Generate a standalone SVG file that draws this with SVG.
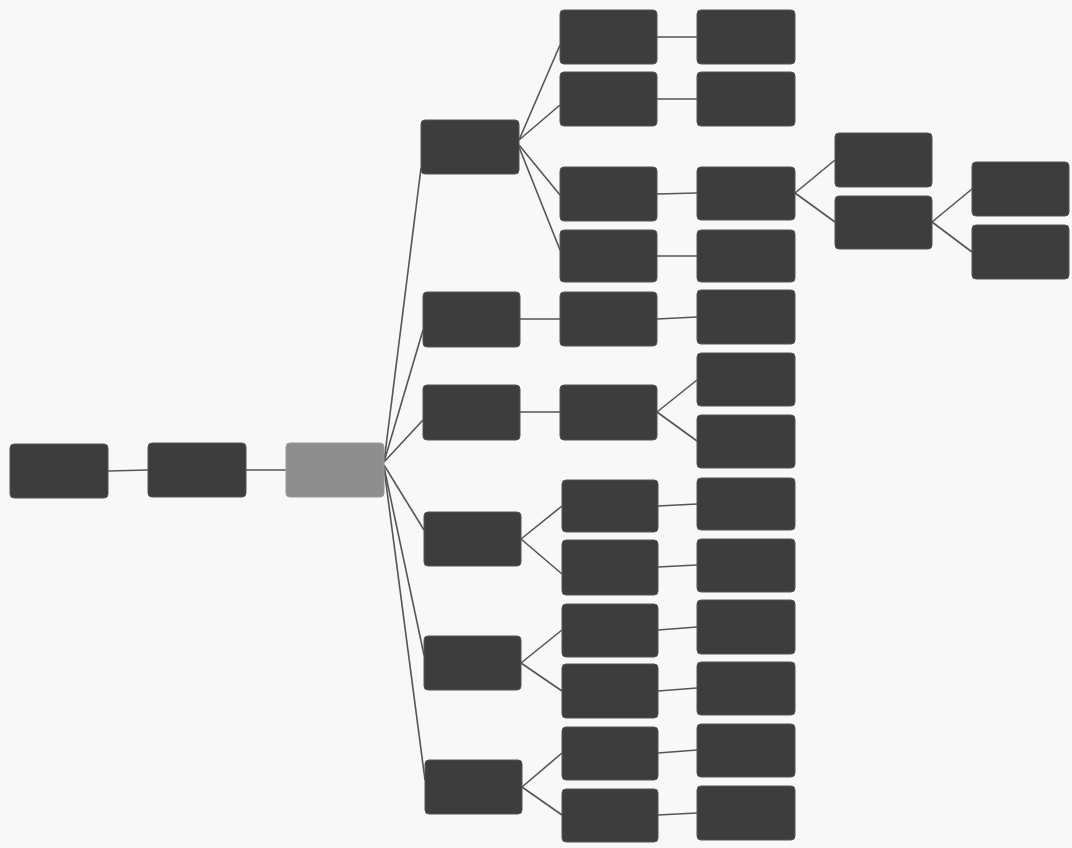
<svg xmlns="http://www.w3.org/2000/svg" width="1072" height="848" viewBox="0 0 1072 848">
<style>
.n{fill:#3d3d3d;stroke:#555;stroke-width:1}
.r{fill:#8e8e8e;stroke:#999;stroke-width:1}
.c line{stroke:#555;stroke-width:1.6}
</style>
<rect width="1072" height="848" fill="#f8f8f8"/>
<g class="c" id="connectors">
<line x1="108" y1="471" x2="148" y2="470"/>
<line x1="246" y1="470" x2="286" y2="470"/>
<line x1="384" y1="462" x2="421" y2="168"/>
<line x1="384" y1="462" x2="423" y2="330"/>
<line x1="384" y1="462" x2="423" y2="420"/>
<line x1="384" y1="465" x2="424" y2="530"/>
<line x1="384" y1="467" x2="424" y2="655"/>
<line x1="384" y1="468" x2="425" y2="780"/>
<line x1="519" y1="140" x2="560" y2="45"/>
<line x1="519" y1="140" x2="560" y2="105"/>
<line x1="519" y1="145" x2="560" y2="195"/>
<line x1="519" y1="147" x2="560" y2="250"/>
<line x1="520" y1="319" x2="560" y2="319"/>
<line x1="520" y1="412" x2="560" y2="412"/>
<line x1="521" y1="539" x2="562" y2="506"/>
<line x1="521" y1="539" x2="562" y2="574"/>
<line x1="521" y1="663" x2="562" y2="630"/>
<line x1="521" y1="663" x2="562" y2="691"/>
<line x1="522" y1="787" x2="562" y2="753"/>
<line x1="522" y1="787" x2="562" y2="815"/>
<line x1="657" y1="37" x2="697" y2="37"/>
<line x1="657" y1="99" x2="697" y2="99"/>
<line x1="657" y1="194" x2="697" y2="193"/>
<line x1="657" y1="256" x2="697" y2="256"/>
<line x1="657" y1="319" x2="697" y2="317"/>
<line x1="657" y1="412" x2="697" y2="380"/>
<line x1="657" y1="412" x2="697" y2="441"/>
<line x1="658" y1="506" x2="697" y2="504"/>
<line x1="658" y1="567" x2="697" y2="565"/>
<line x1="658" y1="630" x2="697" y2="627"/>
<line x1="658" y1="691" x2="697" y2="688"/>
<line x1="658" y1="753" x2="697" y2="750"/>
<line x1="658" y1="815" x2="697" y2="813"/>
<line x1="795" y1="193" x2="835" y2="160"/>
<line x1="795" y1="193" x2="835" y2="222"/>
<line x1="932" y1="222" x2="972" y2="189"/>
<line x1="932" y1="222" x2="972" y2="252"/>
</g>
<g id="n0"><rect class="n" x="10" y="444" width="98" height="54" rx="4"/></g>
<g id="n1"><rect class="n" x="148" y="443" width="98" height="54" rx="4"/></g>
<g id="root"><rect class="r" x="286" y="443" width="98" height="54" rx="4"/></g>
<g id="a"><rect class="n" x="421" y="120" width="98" height="54" rx="4"/></g>
<g id="b"><rect class="n" x="423" y="292" width="97" height="55" rx="4"/></g>
<g id="c"><rect class="n" x="423" y="385" width="97" height="55" rx="4"/></g>
<g id="d"><rect class="n" x="424" y="512" width="97" height="54" rx="4"/></g>
<g id="e"><rect class="n" x="424" y="636" width="97" height="54" rx="4"/></g>
<g id="f"><rect class="n" x="425" y="760" width="97" height="54" rx="4"/></g>
<g id="a1"><rect class="n" x="560" y="10" width="97" height="54" rx="4"/></g>
<g id="a2"><rect class="n" x="560" y="72" width="97" height="54" rx="4"/></g>
<g id="a3"><rect class="n" x="560" y="167" width="97" height="54" rx="4"/></g>
<g id="a4"><rect class="n" x="560" y="230" width="97" height="52" rx="4"/></g>
<g id="b1"><rect class="n" x="560" y="292" width="97" height="54" rx="4"/></g>
<g id="c1"><rect class="n" x="560" y="385" width="97" height="55" rx="4"/></g>
<g id="d1"><rect class="n" x="562" y="480" width="96" height="52" rx="4"/></g>
<g id="d2"><rect class="n" x="562" y="540" width="96" height="55" rx="4"/></g>
<g id="e1"><rect class="n" x="562" y="604" width="96" height="53" rx="4"/></g>
<g id="e2"><rect class="n" x="562" y="664" width="96" height="54" rx="4"/></g>
<g id="f1"><rect class="n" x="562" y="727" width="96" height="53" rx="4"/></g>
<g id="f2"><rect class="n" x="562" y="789" width="96" height="53" rx="4"/></g>
<g id="a1a"><rect class="n" x="697" y="10" width="98" height="54" rx="4"/></g>
<g id="a2a"><rect class="n" x="697" y="72" width="98" height="54" rx="4"/></g>
<g id="a3a"><rect class="n" x="697" y="167" width="98" height="53" rx="4"/></g>
<g id="a4a"><rect class="n" x="697" y="230" width="98" height="52" rx="4"/></g>
<g id="b1a"><rect class="n" x="697" y="290" width="98" height="54" rx="4"/></g>
<g id="c1a"><rect class="n" x="697" y="353" width="98" height="53" rx="4"/></g>
<g id="c1b"><rect class="n" x="697" y="415" width="98" height="53" rx="4"/></g>
<g id="d1a"><rect class="n" x="697" y="478" width="98" height="52" rx="4"/></g>
<g id="d2a"><rect class="n" x="697" y="539" width="98" height="53" rx="4"/></g>
<g id="e1a"><rect class="n" x="697" y="600" width="98" height="54" rx="4"/></g>
<g id="e2a"><rect class="n" x="697" y="662" width="98" height="53" rx="4"/></g>
<g id="f1a"><rect class="n" x="697" y="724" width="98" height="53" rx="4"/></g>
<g id="f2a"><rect class="n" x="697" y="786" width="98" height="54" rx="4"/></g>
<g id="a3a1"><rect class="n" x="835" y="133" width="97" height="54" rx="4"/></g>
<g id="a3a2"><rect class="n" x="835" y="196" width="97" height="53" rx="4"/></g>
<g id="a3a2a"><rect class="n" x="972" y="162" width="97" height="54" rx="4"/></g>
<g id="a3a2b"><rect class="n" x="972" y="225" width="97" height="54" rx="4"/></g>
</svg>
